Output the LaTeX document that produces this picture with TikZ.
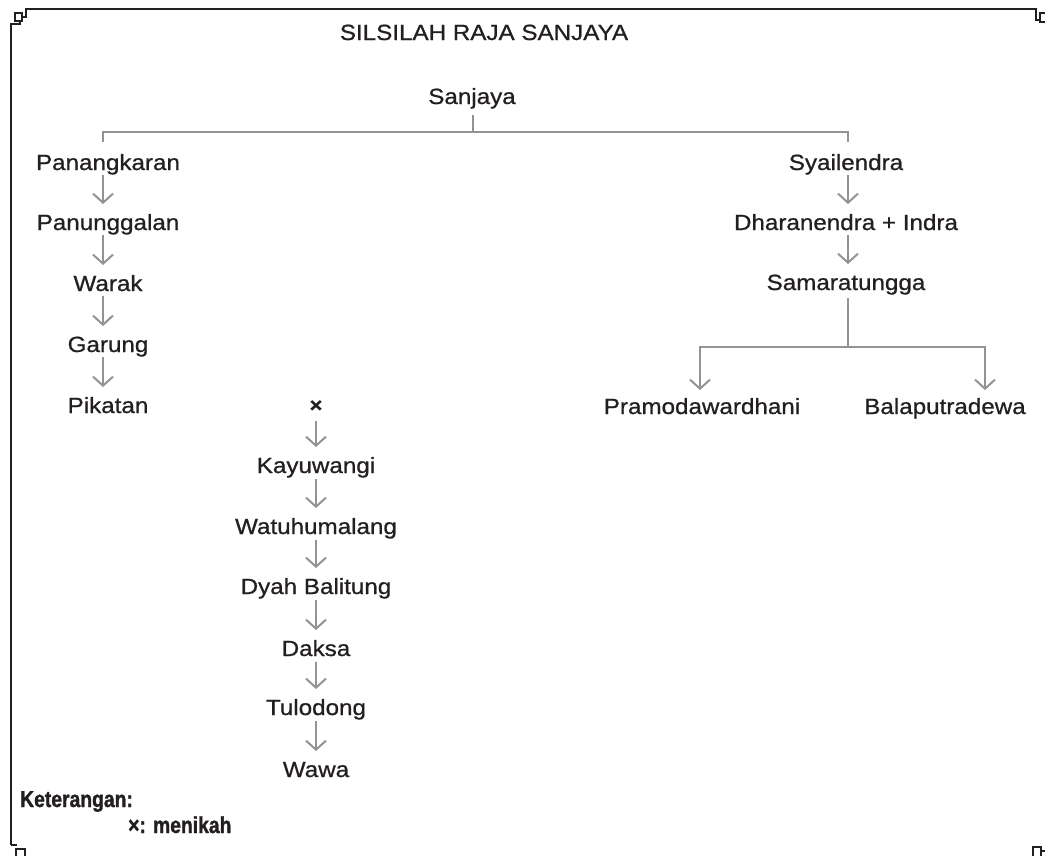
\documentclass[tikz,border=0pt]{standalone}
\usepackage{fontspec}
\setmainfont{Liberation Sans}[FakeStretch=1.1,FakeBold=0.8]
\newfontfamily\ketfont{Liberation Sans}[FakeStretch=0.84,BoldFeatures={FakeBold=1.3}]
\usetikzlibrary{arrows.meta}
\definecolor{conn}{HTML}{939393}
\definecolor{ink}{HTML}{231F20}
\begin{document}
\begin{tikzpicture}[x=1pt,y=-1pt,
  lbl/.style={anchor=base,inner sep=0pt,text=ink,font=\fontsize{22}{26}\selectfont},
  keyl/.style={anchor=base west,inner sep=0pt,text=ink,font=\ketfont\bfseries\fontsize{23}{26}\selectfont},
  line/.style={draw=conn,line width=2pt},
  arr/.style={line,-{Straight Barb[length=9pt,width=20pt,line width=2pt]}},
  frame/.style={draw=ink,line width=2.6pt},
  orn/.style={draw=ink,line width=1.8pt}]
\useasboundingbox (0,0) rectangle (1045,855);
% frame
\draw[frame] (11,845) -- (11,24) -- (20,24) -- (20,21);
\draw[orn] (15,13) rectangle (22,21);
\draw[frame] (22,17) -- (26,17) -- (26,9) -- (1036,9) -- (1036,20) -- (1040,20);
\draw[orn] (1040,13) rectangle (1047,22);
\draw[frame] (11,845) -- (17,845);
\draw[orn] (16,849) rectangle (25,857);
\draw[orn] (1033,847) rectangle (1041,857);
\draw[orn] (1041,851) -- (1047,851);
% labels
\node[lbl] (title) at (484,40) {SILSILAH RAJA SANJAYA};
\node[lbl] (sanjaya) at (472,104) {Sanjaya};
\node[lbl] (pan) at (108,170) {Panangkaran};
\node[lbl] (pun) at (108,230) {Panunggalan};
\node[lbl] (war) at (108,291) {Warak};
\node[lbl] (gar) at (108,352) {Garung};
\node[lbl] (pik) at (108,413) {Pikatan};
\node[lbl] (sya) at (846,170) {Syailendra};
\node[lbl] (dha) at (846,230) {Dharanendra + Indra};
\node[lbl] (sam) at (846,290) {Samaratungga};
\node[lbl] (pra) at (702,414) {Pramodawardhani};
\node[lbl] (bal) at (945,414) {Balaputradewa};
\node[lbl,font=\bfseries\fontsize{20}{24}\selectfont] (x) at (316,412) {×};
\node[lbl] (kay) at (316,473) {Kayuwangi};
\node[lbl] (wat) at (316,534) {Watuhumalang};
\node[lbl] (dya) at (316,594) {Dyah Balitung};
\node[lbl] (dak) at (316,656) {Daksa};
\node[lbl] (tul) at (316,715) {Tulodong};
\node[lbl] (waw) at (316,777) {Wawa};
\node[keyl] (ket) at (20,807) {Keterangan:};
\node[keyl] (leg) at (128,833) {×: menikah};
% top bar
\coordinate (jn) at ([xshift=1pt,yshift=-28pt]sanjaya.base);
\draw[line] ([xshift=1pt,yshift=-11pt]sanjaya.base) -- (jn);
\draw[line] ([xshift=-5pt,yshift=28pt]pan.base) |- (jn) -| ([xshift=2pt,yshift=28pt]sya.base);
% left column
\foreach \a/\b in {pan/pun,pun/war,war/gar,gar/pik}
  \draw[arr] ([xshift=-5pt,yshift=-5pt]\a.base) -- ([xshift=-5pt,yshift=26pt]\b.base);
% right column
\foreach \a/\b in {sya/dha,dha/sam}
  \draw[arr] ([xshift=2pt,yshift=-5pt]\a.base) -- ([xshift=2pt,yshift=26pt]\b.base);
\coordinate (sj) at ([xshift=2pt,yshift=-57pt]sam.base);
\draw[line] ([xshift=2pt,yshift=-8pt]sam.base) -- (sj);
\draw[arr] (sj) -| ([xshift=-2pt,yshift=24pt]pra.base);
\draw[arr] (sj) -| ([xshift=40pt,yshift=24pt]bal.base);
% middle column
\draw[arr] ([yshift=-9pt]x.base) -- ([yshift=26pt]kay.base);
\foreach \a/\b in {kay/wat,wat/dya,dya/dak,dak/tul,tul/waw}
  \draw[arr] ([yshift=-6pt]\a.base) -- ([yshift=26pt]\b.base);
\end{tikzpicture}
\end{document}
